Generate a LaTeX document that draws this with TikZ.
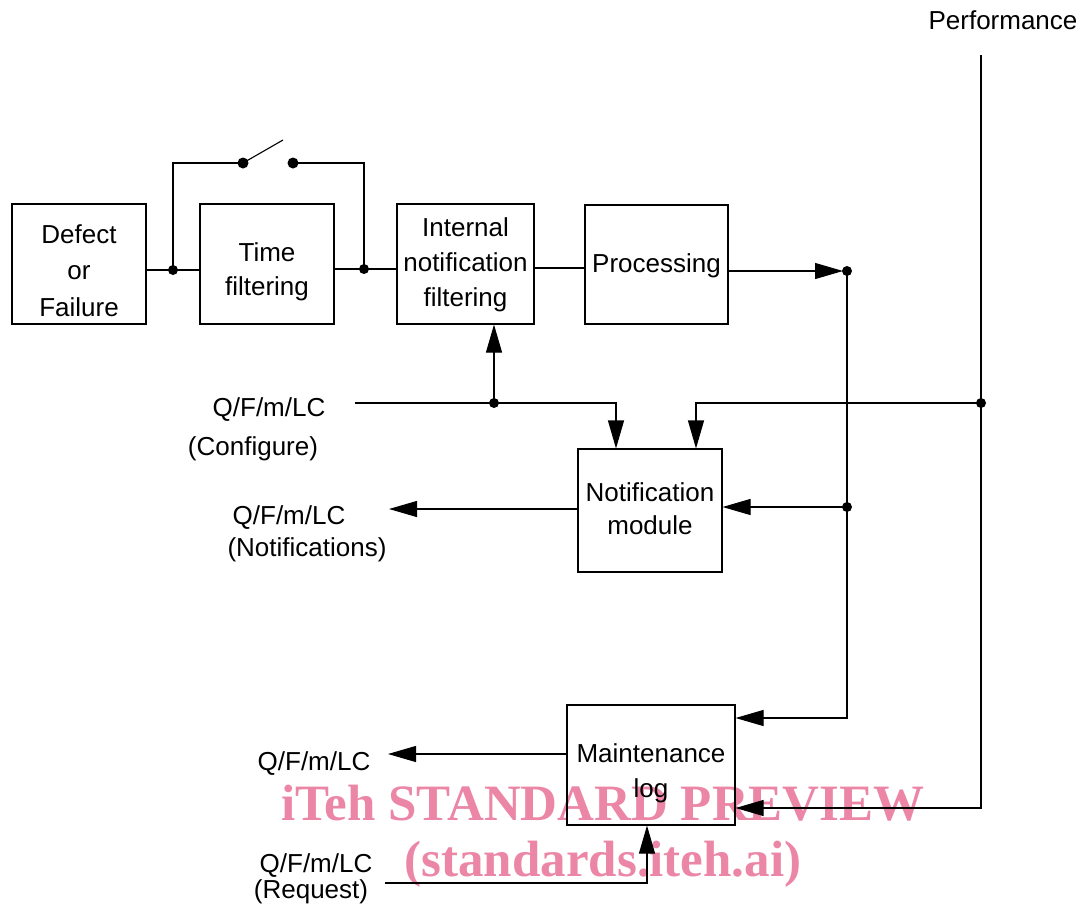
\documentclass[tikz,border=0pt]{standalone}
\usepackage{fontspec}
\setmainfont{Liberation Sans}
\newfontfamily\wmfont{Liberation Serif}
\usetikzlibrary{arrows.meta}
\definecolor{wmpink}{RGB}{236,134,166}
\begin{document}
\begin{tikzpicture}[x=1pt,y=-1pt,
  line width=1.1pt,
  box/.style={draw, line width=1.1pt, inner sep=0pt},
  txt/.style={align=center, inner sep=0pt, font=\fontsize{26}{35}\selectfont},
  lbl/.style={inner sep=0pt, font=\fontsize{26}{32}\selectfont},
  arr/.style={-{Triangle[length=28pt,width=16pt]}},
  dot/.style={circle, fill=black, inner sep=0pt, minimum size=10pt},
  wm/.style={inner sep=0pt, text=wmpink, font=\wmfont\bfseries\fontsize{51}{60}\selectfont}]
\useasboundingbox (0,0) rectangle (1080,906);

% watermark
\node[wm] (wm1) at (603,803) {iTeh STANDARD PREVIEW};
\node[wm] (wm2) at (603,864) {(standards.iteh.ai)};

% boxes
\node[box, minimum width=134pt, minimum height=120pt] (def) at (79,264) {};
\node[box, minimum width=134pt, minimum height=120pt] (tf) at (267,264) {};
\node[box, minimum width=137pt, minimum height=120pt] (inf) at (465.5,264) {};
\node[box, minimum width=143pt, minimum height=119pt] (proc) at (656.5,264.5) {};
\node[box, minimum width=144pt, minimum height=123pt] (nm) at (650,510.5) {};
\node[box, minimum width=168pt, minimum height=120pt] (ml) at (651,765) {};

% box texts
\node[txt, font=\fontsize{26}{36.5}\selectfont] (deft) at (79,270.5) {Defect\\or\\Failure};
\node[txt, font=\fontsize{26}{34}\selectfont] (tft) at (267,271.5) {Time\\filtering};
\node[txt] (inft) at (465.5,265) {Internal\\notification\\filtering};
\node[txt] (proct) at (656.5,266) {Processing};
\node[txt, font=\fontsize{26}{33}\selectfont] (nmt) at (650,509) {Notification\\module};
\node[txt] (mlt) at (651,773) {Maintenance\\log};

% labels
\node[lbl] (perf) at (1003,20) {Performance};
\node[lbl] (cfg1) at (269,410) {Q/F/m/LC};
\node[lbl] (cfg2) at (253,449) {(Configure)};
\node[lbl] (not1) at (289,518) {Q/F/m/LC};
\node[lbl] (not2) at (307,550) {(Notifications)};
\node[lbl] (mo1) at (314,764) {Q/F/m/LC};
\node[lbl] (rq1) at (316,866) {Q/F/m/LC};
\node[lbl] (rq2) at (311,892) {(Request)};

% coordinates
\coordinate (j1) at (173,270);
\coordinate (j2) at (364,269);
\coordinate (sw1) at (243,163);
\coordinate (sw2) at (293,163);
\coordinate (lev) at (283,140);
\coordinate (j3) at (847,271);
\coordinate (j4) at (847,507);
\coordinate (p1) at (981,55);
\coordinate (j5) at (981,403);
\coordinate (c0) at (355,403);
\coordinate (j6) at (494,403);
\coordinate (o1) at (389,509);
\coordinate (o2) at (388,754);
\coordinate (r0) at (385,883);

% connectors
\draw (def.east |- j1) -- (j1) -- (tf.west |- j1);
\draw (j1) -- (j1 |- sw1) -- (sw1);
\draw (sw1) -- (lev);
\draw (sw2) -- (j2 |- sw2) -- (j2);
\draw (tf.east |- j2) -- (inf.west |- j2);
\draw (inf.east |- 0,268) -- (proc.west |- 0,268);
\draw[arr, shorten >=4pt] (proc.east |- j3) -- (j3);
\draw[arr] (j3) -- (847,718) -- (ml.east |- 0,718);
\draw[arr] (j4) -- (nm.east |- j4);
\draw[arr] (p1) -- (981,808) -- (ml.east |- 0,808);
\draw[arr] (j5) -- (696,403) -- (nm.north -| 696,0);
\draw[arr] (c0) -- (616,403) -- (nm.north -| 616,0);
\draw[arr] (j6) -- (inf.south -| j6);
\draw[arr] (nm.west |- o1) -- (o1);
\draw[arr] (ml.west |- o2) -- (o2);
\draw[arr] (r0) -- (647,883) -- (ml.south -| 647,0);

% dots
\foreach \p in {j1,j2,j3,j4,j5,j6}
  \node[dot] at (\p) {};
\node[dot, minimum size=11pt] at (sw1) {};
\node[dot, minimum size=11pt] at (sw2) {};
\end{tikzpicture}
\end{document}
